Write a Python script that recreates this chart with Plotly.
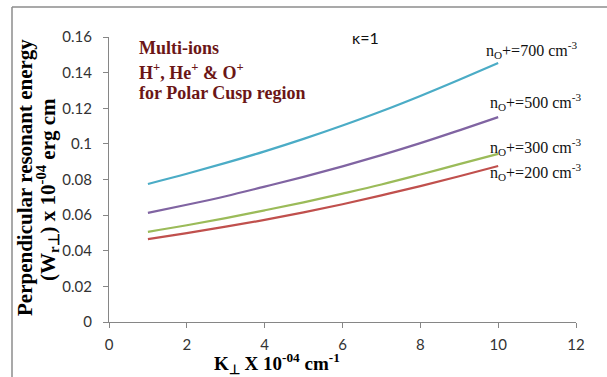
import plotly.graph_objects as go

k_perp = [1, 2, 3, 4, 5, 6, 7, 8, 9, 10]
w_700 = [0.0775, 0.0832, 0.0893, 0.0958, 0.1028, 0.1103, 0.1183, 0.1269, 0.1360, 0.1454]
w_500 = [0.0613, 0.0658, 0.0706, 0.0760, 0.0815, 0.0874, 0.0937, 0.1004, 0.1076, 0.1150]
w_300 = [0.0506, 0.0543, 0.0583, 0.0627, 0.0672, 0.0721, 0.0772, 0.0828, 0.0886, 0.0944]
w_200 = [0.0465, 0.0499, 0.0535, 0.0573, 0.0615, 0.0661, 0.0711, 0.0763, 0.0818, 0.0876]

series = [
    ("700", w_700, "#4BACC6"),
    ("500", w_500, "#8064A2"),
    ("300", w_300, "#9BBB59"),
    ("200", w_200, "#C0504D"),
]
label_pos = {"700": (484, 50), "500": (488, 102), "300": (488, 147), "200": (488, 172)}

fig = go.Figure()
for name, ys, col in series:
    fig.add_trace(go.Scatter(x=k_perp, y=ys, mode="lines", line=dict(color=col, width=2.2, shape="spline"),
                             name=name, showlegend=False))

W, H = 607, 377
L, R, T, B = 109, 31, 37, 55
pw, ph = W - L - R, H - T - B

def px(xp):
    return (xp - L) / pw

def py(yp):
    return (H - B - yp) / ph

serif = "Liberation Serif, Times New Roman, serif"
sans = "Lato, sans-serif"
annotations = []
for name, ys, col in series:
    xp, yp = label_pos[name]
    annotations.append(dict(x=px(xp), y=py(yp), xref="paper", yref="paper", xanchor="left", yanchor="middle",
                            text="n<sub>O</sub>+=" + name + " cm<sup>-3</sup>", showarrow=False,
                            font=dict(family=serif, size=16, color="#111")))
annotations.append(dict(x=px(365), y=py(37), xref="paper", yref="paper", xanchor="center", yanchor="middle",
                        text="κ=1", showarrow=False, font=dict(family=sans, size=16, color="#111")))
for i, t in enumerate(["Multi-ions", "H<sup>+</sup>, He<sup>+</sup> &amp; O<sup>+</sup>", "for Polar Cusp region"]):
    annotations.append(dict(x=px(137), y=py([48, 71, 93][i]), xref="paper", yref="paper", xanchor="left",
                            yanchor="middle", text="<b>" + t + "</b>", showarrow=False,
                            font=dict(family=serif, size=18, color="#6B1616")))
annotations.append(dict(x=px(25), y=py(178), xref="paper", yref="paper", textangle=-90, xanchor="center",
                        yanchor="middle", text="<b>Perpendicular resonant energy</b>", showarrow=False,
                        font=dict(family=serif, size=21, color="#000")))
annotations.append(dict(x=px(47), y=py(190), xref="paper", yref="paper", textangle=-90, xanchor="center",
                        yanchor="middle", text="<b>(W<sub>r⊥</sub>) x 10<sup>-04</sup> erg cm</b>", showarrow=False,
                        font=dict(family=serif, size=21, color="#000")))
annotations.append(dict(x=px(277), y=py(363), xref="paper", yref="paper", xanchor="center",
                        yanchor="middle", text="<b>K<sub>⊥</sub> X 10<sup>-04</sup> cm<sup>-1</sup></b>", showarrow=False,
                        font=dict(family=serif, size=19, color="#000")))

shapes = [
    dict(type="line", xref="paper", yref="paper", x0=px(12), x1=px(12), y0=py(7), y1=py(400),
         line=dict(color="#8C8C8C", width=1.5)),
    dict(type="line", xref="paper", yref="paper", x0=px(12), x1=px(620), y0=py(7), y1=py(7),
         line=dict(color="#8C8C8C", width=1.5)),
]

fig.update_layout(
    width=W, height=H, margin=dict(l=L, r=R, t=T, b=B),
    paper_bgcolor="white", plot_bgcolor="white",
    annotations=annotations, shapes=shapes,
    xaxis=dict(range=[0, 12], dtick=2, tick0=0, showgrid=False, zeroline=False, showline=True,
               linecolor="#868686", linewidth=1, ticks="outside", ticklen=5, tickcolor="#868686",
               ticklabelstandoff=4,
               tickfont=dict(family=sans, size=15, color="#333")),
    yaxis=dict(range=[0, 0.16], dtick=0.02, tick0=0, showgrid=False, zeroline=False, showline=True,
               linecolor="#868686", linewidth=1, ticks="outside", ticklen=5, tickcolor="#868686",
               ticklabelstandoff=8,
               tickformat="~g", tickfont=dict(family=sans, size=15, color="#333")),
)
fig.write_html("out.html")
